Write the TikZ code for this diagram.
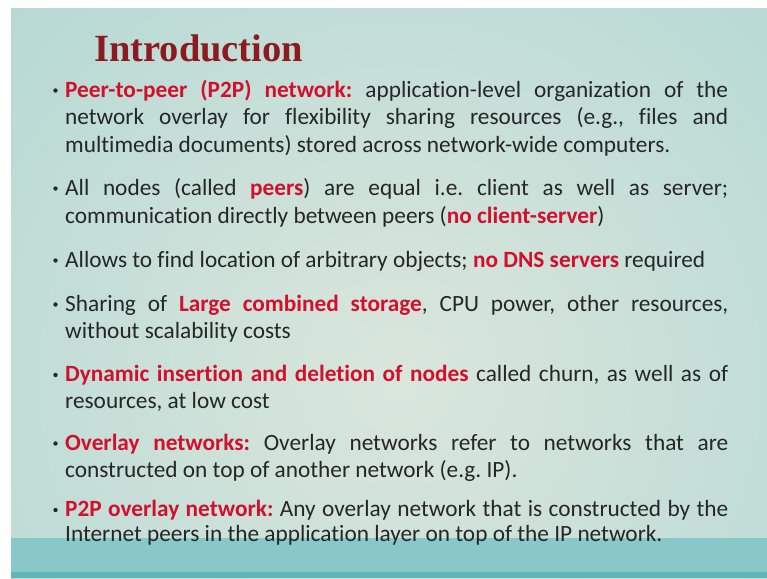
\documentclass[tikz,border=0pt]{standalone}
\usepackage{fontspec}
\setmainfont{Carlito}[Ligatures=CommonOff]
\newfontfamily\titlefont{Liberation Serif}

\definecolor{ink}{HTML}{262626}
\definecolor{hl}{HTML}{D2102C}
\definecolor{titlered}{HTML}{8B1B1F}
\definecolor{bglight}{HTML}{DAE6DC}
\definecolor{bgteal}{HTML}{A6D3D1}
\definecolor{barteal}{HTML}{88C8C8}
\definecolor{bardark}{HTML}{5DB6BA}

% highlighted key phrase
\newcommand{\hlt}[1]{\textbf{\textcolor{hl}{#1}}}
% a justified full-width line
\newcommand{\fullline}[1]{\makebox[663pt][s]{#1}}

\tikzset{
  txtline/.style={anchor=base west, inner sep=0pt, text=ink,
    font=\fontsize{23.3}{27.5}\selectfont\frenchspacing},
  bulletdot/.style={circle, fill=ink, inner sep=0pt, minimum size=4.4pt},
  slidetitle/.style={anchor=base west, inner sep=0pt, text=titlered,
    font=\titlefont\bfseries\fontsize{38.5}{44}\selectfont},
}

\begin{document}
\begin{tikzpicture}[x=1pt,y=-1pt]
\useasboundingbox (0,0) rectangle (767,578);
\fill[white] (0,0) rectangle (767,578);

% slide background
\begin{scope}
  \clip (11,9) rectangle (767,578);
  \shade[inner color=bglight, outer color=bgteal] (-400,-420) rectangle (1200,1180);
\end{scope}

% bottom band
\fill[barteal] (11,538) rectangle (767,572);
\fill[bardark] (11,572) rectangle (767,578);

% title
\node[slidetitle] (title) at (94,61) {Introduction};

% bullet 1
\node[bulletdot] (d1) at (55.5,90.5) {};
\node[txtline] (b1a) at (65,97) {\fullline{\hlt{Peer-to-peer (P2P) network:} application-level organization of the}};
\node[txtline] (b1b) at (65,124.5) {\fullline{network overlay for flexibility sharing resources (e.g., files and}};
\node[txtline] (b1c) at (65,152) {multimedia documents) stored across network-wide computers.};

% bullet 2
\node[bulletdot] (d2) at (55.5,188.5) {};
\node[txtline] (b2a) at (65,195) {\fullline{All nodes (called \hlt{peers}) are equal i.e. client as well as server;}};
\node[txtline] (b2b) at (65,223) {communication directly between peers (\hlt{no client-server})};

% bullet 3
\node[bulletdot] (d3) at (55.5,260.5) {};
\node[txtline] (b3a) at (65,267) {Allows to find location of arbitrary objects; \hlt{no DNS servers} required};

% bullet 4
\node[bulletdot] (d4) at (55.5,304.5) {};
\node[txtline] (b4a) at (65,311) {\fullline{Sharing of \hlt{Large combined storage}, CPU power, other resources,}};
\node[txtline] (b4b) at (65,338) {without scalability costs};

% bullet 5
\node[bulletdot] (d5) at (55.5,375) {};
\node[txtline] (b5a) at (65,381.5) {\fullline{\hlt{Dynamic insertion and deletion of nodes} called churn, as well as of}};
\node[txtline] (b5b) at (65,408) {resources, at low cost};

% bullet 6
\node[bulletdot] (d6) at (55.5,443.5) {};
\node[txtline] (b6a) at (65,450) {\fullline{\hlt{Overlay networks:} Overlay networks refer to networks that are}};
\node[txtline] (b6b) at (65,477) {constructed on top of another network (e.g. IP).};

% bullet 7
\node[bulletdot] (d7) at (55.5,510) {};
\node[txtline] (b7a) at (65,516.5) {\fullline{\hlt{P2P overlay network:} Any overlay network that is constructed by the}};
\node[txtline] (b7b) at (65,541.5) {Internet peers in the application layer on top of the IP network.};
\end{tikzpicture}
\end{document}
